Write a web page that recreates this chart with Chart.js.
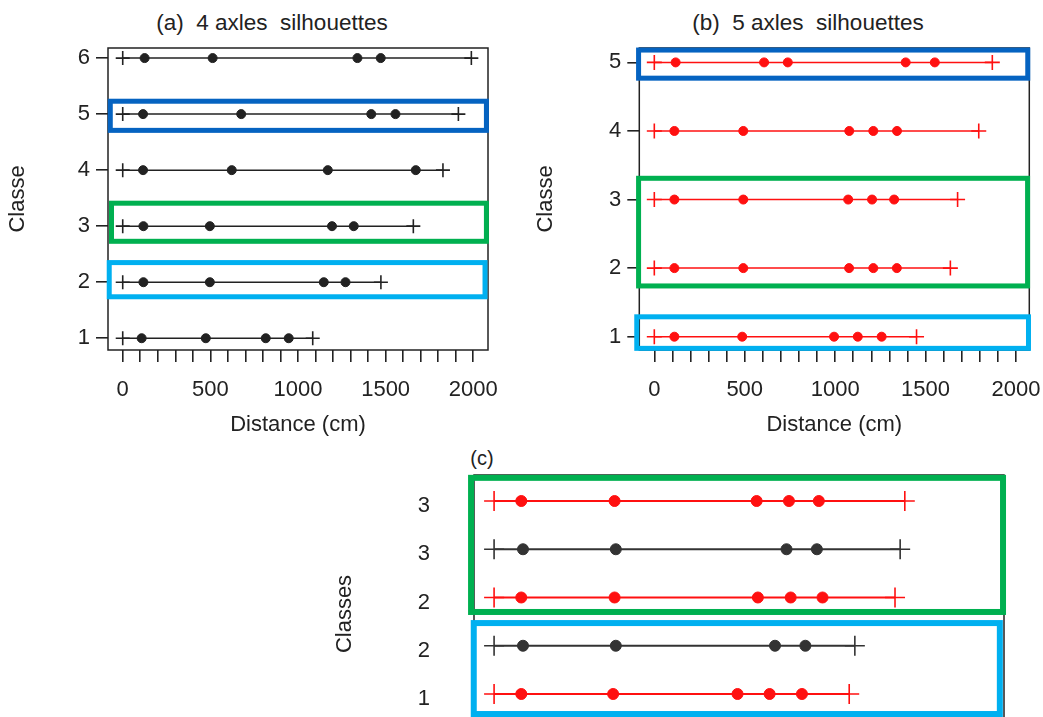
<!DOCTYPE html>
<html>
<head>
<meta charset="utf-8">
<script src="https://cdn.jsdelivr.net/npm/chart.js@4.4.1/dist/chart.umd.min.js"></script>
<style>
  html, body { margin: 0; padding: 0; background: #fff; }
  body { width: 1043px; height: 717px; overflow: hidden; position: relative;
         font-family: "Liberation Sans", Arial, sans-serif; color: #222; }
  .panel { position: absolute; }
  .ttl { position: absolute; font-size: 22.5px; line-height: 25px; white-space: pre; text-align: center; }
</style>
</head>
<body>
<div class="ttl" style="left:72px;top:10px;width:400px">(a)  4 axles  silhouettes</div>
<div class="ttl" style="left:608px;top:10px;width:400px">(b)  5 axles  silhouettes</div>
<div class="ttl" style="left:457px;top:446px;width:50px;font-size:20px">(c)</div>
<div class="panel" style="left:0;top:0;width:500px;height:440px"><canvas id="chartA"></canvas></div>
<div class="panel" style="left:520px;top:0;width:523px;height:440px"><canvas id="chartB"></canvas></div>
<div class="panel" style="left:330px;top:440px;width:713px;height:330px"><canvas id="chartC"></canvas></div>
<script>
// positions along the vehicle (cm): first value = front, last value = rear, dots = axles
const fourAxle1 = [0, 108, 474, 816, 947, 1084];
const fourAxle2 = [0, 118, 497, 1147, 1271, 1473];
const fourAxle3 = [0, 118, 497, 1194, 1318, 1658];
const fourAxle4 = [0, 116, 622, 1170, 1672, 1827];
const fourAxle5 = [0, 116, 676, 1418, 1556, 1915];
const fourAxle6 = [0, 125, 513, 1339, 1472, 1989];

const fiveAxle1 = [0, 111, 486, 994, 1125, 1257, 1450];
const fiveAxle2 = [0, 111, 492, 1077, 1211, 1341, 1637];
const fiveAxle3 = [0, 111, 492, 1072, 1204, 1326, 1677];
const fiveAxle4 = [0, 111, 492, 1078, 1211, 1342, 1794];
const fiveAxle5 = [0, 118, 607, 738, 1390, 1551, 1869];

const classesA = [1, 2, 3, 4, 5, 6];
const classesB = [1, 2, 3, 4, 5];
const xTickValues = [0, 100, 200, 300, 400, 500, 600, 700, 800, 900, 1000,
                     1100, 1200, 1300, 1400, 1500, 1600, 1700, 1800, 1900, 2000];
const xTickLabels = [0, 500, 1000, 1500, 2000];

// panel (c): rows from top to bottom
const compareRows = [fiveAxle3, fourAxle3, fiveAxle2, fourAxle2, fiveAxle1];
const compareLabels = ['3', '3', '2', '2', '1'];
const compareIsFive = [true, false, true, false, true];

const ink = '#222';
const red = '#ff1010';
const darkBlue = '#0563c1';
const green = '#00b050';
const lightBlue = '#00b0f0';

// highlight boxes (data units)
const boxesA = [
  {x0: -71, x1: 2075, y0: 4.71, y1: 5.23, color: darkBlue},
  {x0: -64, x1: 2075, y0: 2.73, y1: 3.41, color: green},
  {x0: -77, x1: 2067, y0: 1.74, y1: 2.35, color: lightBlue}
];
const boxesB = [
  {x0: -87, x1: 2065, y0: 4.77, y1: 5.18, color: darkBlue},
  {x0: -87, x1: 2064, y0: 1.74, y1: 3.31, color: green},
  {x0: -97, x1: 2069, y0: 0.83, y1: 1.29, color: lightBlue}
];
const boxesC = [
  {x0: -94, x1: 2078, y0: 2.70, y1: 5.48, color: green},
  {x0: -83, x1: 2065, y0: 0.585, y1: 2.47, color: lightBlue}
];

Chart.defaults.font.family = '"Liberation Sans", Arial, sans-serif';
Chart.defaults.color = ink;

const framePlugin = {
  id: 'frame',
  beforeDatasetsDraw(chart) {
    const {ctx, chartArea: a} = chart;
    ctx.save();
    ctx.strokeStyle = ink;
    ctx.lineWidth = 1.5;
    ctx.strokeRect(a.left, a.top, a.width, a.height);
    ctx.restore();
  }
};

function boxPlugin(list, width) {
  return {
    id: 'boxes',
    afterDatasetsDraw(chart) {
      const {ctx, scales: {x, y}} = chart;
      ctx.save();
      ctx.lineWidth = width;
      list.forEach(b => {
        const l = x.getPixelForValue(b.x0), r = x.getPixelForValue(b.x1);
        const t = y.getPixelForValue(b.y1), bt = y.getPixelForValue(b.y0);
        ctx.strokeStyle = b.color;
        ctx.strokeRect(l, t, r - l, bt - t);
      });
      ctx.restore();
    }
  };
}

function rowDataset(values, cls, color, lw, dotR, crossR) {
  const last = values.length - 1;
  const isEnd = c => c.dataIndex === 0 || c.dataIndex === last;
  return {
    data: values.map(v => ({x: v, y: cls})),
    showLine: true,
    borderColor: color,
    borderWidth: lw,
    pointStyle: c => isEnd(c) ? 'cross' : 'circle',
    pointRadius: c => isEnd(c) ? crossR : dotR,
    pointBorderWidth: c => isEnd(c) ? 1.6 : 1,
    pointBackgroundColor: color,
    pointBorderColor: color
  };
}

// keep the plot box where the layout padding puts it (no label overhang padding)
function noOverhang(s) {
  s.paddingLeft = 0; s.paddingRight = 0; s.paddingTop = 0; s.paddingBottom = 0;
}

function panelOptions(o) {
  return {
    animation: false,
    responsive: true,
    maintainAspectRatio: false,
    events: [],
    layout: {padding: o.padding},
    plugins: {legend: {display: false}, tooltip: {enabled: false}},
    scales: {
      x: {
        type: 'linear', min: o.xMin, max: o.xMax, display: o.showX,
        afterBuildTicks: s => { s.ticks = xTickValues.map(v => ({value: v})); },
        afterFit: s => { s.height = o.showX ? 88 : 0; noOverhang(s); },
        border: {display: false},
        grid: {drawOnChartArea: false, tickLength: 12, color: ink, lineWidth: 1.6},
        ticks: {padding: 15, autoSkip: false, maxRotation: 0, font: {size: 22}, color: ink,
                callback: v => xTickLabels.includes(v) ? String(v) : ''},
        title: {display: true, text: 'Distance (cm)', font: {size: 22}, color: ink,
                padding: {top: 0, bottom: 0}}
      },
      y: {
        type: 'linear', min: o.yMin, max: o.yMax,
        afterBuildTicks: s => { s.ticks = o.yTicks.map(v => ({value: v})); },
        afterFit: s => { s.width = o.yWidth; noOverhang(s); },
        border: {display: false},
        grid: o.yGrid,
        ticks: {padding: o.yPad, labelOffset: o.yLabelOffset || 0, autoSkip: false,
                font: {size: o.yFont}, color: ink, callback: o.yCallback},
        title: {display: true, text: o.yTitle, font: {size: 22}, color: ink,
                padding: {top: o.yTitlePad, bottom: 0}}
      }
    }
  };
}

const tickGrid = {drawOnChartArea: false, tickLength: 12, color: ink, lineWidth: 1.6};

new Chart(document.getElementById('chartA'), {
  type: 'scatter',
  data: {
    datasets: [fourAxle1, fourAxle2, fourAxle3, fourAxle4, fourAxle5, fourAxle6]
      .map((row, i) => rowDataset(row, classesA[i], ink, 1.5, 4.5, 7))
  },
  options: panelOptions({
    padding: {top: 48, right: 12, bottom: 2, left: 0},
    xMin: -84, xMax: 2084, showX: true,
    yMin: 0.79, yMax: 6.18, yTicks: classesA, yWidth: 108, yGrid: tickGrid,
    yPad: 6, yFont: 22, yCallback: v => String(v), yTitle: 'Classe', yTitlePad: 4.8
  }),
  plugins: [framePlugin, boxPlugin(boxesA, 5)]
});

new Chart(document.getElementById('chartB'), {
  type: 'scatter',
  data: {
    datasets: [fiveAxle1, fiveAxle2, fiveAxle3, fiveAxle4, fiveAxle5]
      .map((row, i) => rowDataset(row, classesB[i], red, 1.5, 4.5, 7.5))
  },
  options: panelOptions({
    padding: {top: 48, right: 13.7, bottom: 2, left: 0},
    xMin: -83, xMax: 2073.5, showX: true,
    yMin: 0.806, yMax: 5.21, yTicks: classesB, yWidth: 119.3, yGrid: tickGrid,
    yPad: 6, yFont: 22, yCallback: v => String(v), yTitle: 'Classe', yTitlePad: 12.8
  }),
  plugins: [framePlugin, boxPlugin(boxesB, 5)]
});

new Chart(document.getElementById('chartC'), {
  type: 'scatter',
  data: {
    datasets: compareRows.map((row, i) =>
      rowDataset(row, 5 - i, compareIsFive[i] ? red : '#333', 2.2, 5.5, 10))
  },
  options: panelOptions({
    padding: {top: 35, right: 39, bottom: 17, left: 0},
    xMin: -82, xMax: 2082, showX: false,
    yMin: -0.223, yMax: 5.539, yTicks: [5, 4, 3, 2, 1], yWidth: 144,
    yGrid: {display: false, drawTicks: false},
    yPad: 44, yLabelOffset: 5, yFont: 22, yCallback: v => compareLabels[5 - v],
    yTitle: 'Classes', yTitlePad: 1.8
  }),
  plugins: [framePlugin, boxPlugin(boxesC, 6)]
});
</script>
</body>
</html>
